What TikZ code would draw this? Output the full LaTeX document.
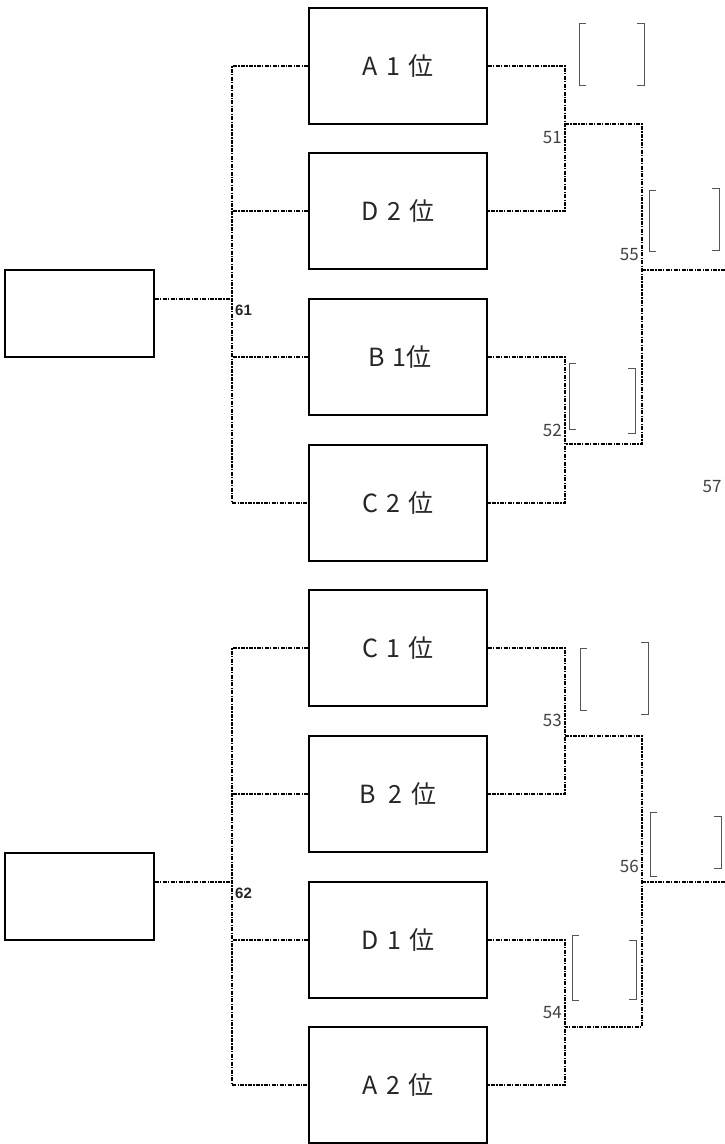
\documentclass[tikz,border=0pt]{standalone}
\usepackage{fontspec}
\setmainfont{Liberation Sans}
\newfontfamily\jpfont{Noto Sans CJK JP}
\definecolor{numgray}{HTML}{404040}
\definecolor{brgray}{HTML}{555555}
\begin{document}
\begin{tikzpicture}[x=1pt,y=-1pt,
  team/.style={draw,line width=1.6pt,minimum width=178pt,minimum height=116pt,inner sep=0pt,font=\jpfont\fontsize{25}{28}\selectfont,text=black!85},
  seed/.style={draw,line width=1.6pt,minimum width=149pt,minimum height=87pt,inner sep=0pt},
  conn/.style={line width=1.4pt,dash pattern=on 4pt off 1.3pt on 1.3pt off 1.3pt},
  num/.style={font=\jpfont\fontsize{17}{19}\selectfont,text=numgray,inner sep=0pt},
  bnum/.style={font=\fontsize{15}{17}\selectfont\bfseries,inner sep=0pt,text=black!85},
  brk/.style={draw=brgray,line width=0.9pt}]
\useasboundingbox (0,0) rectangle (725,1144);
% team boxes
\node[team] (A1) at (398,66) {A\,\,1\,\,位};
\node[team] (D2) at (398,211) {D\,\,2\,\,位};
\node[team] (B1) at (398,357) {\hspace{4pt}B\,\,1位};
\node[team] (C2) at (398,503) {C\,\,2\,\,位};
\node[team] (C1) at (398,648) {C\,\,1\,\,位};
\node[team] (B2) at (398,794) {B\,\,\,2\,\,位};
\node[team] (D1) at (398,940) {D\,\,1\,\,位};
\node[team] (A2) at (398,1085) {A\,\,2\,\,位};
% seed boxes
\node[seed] (S1) at (79.5,313.5) {};
\node[seed] (S2) at (79.5,896.5) {};
% coordinates
\coordinate (L1) at (232,299);
\coordinate (L2) at (232,882);
\coordinate (J51) at (565,124);
\coordinate (J52) at (565,444);
\coordinate (J53) at (565,736);
\coordinate (J54) at (565,1027);
\coordinate (J55) at (642,270);
\coordinate (J56) at (642,882);
\coordinate (E55) at (725,270);
\coordinate (E56) at (725,882);
% left connectors
\draw[conn] (S1.east |- L1) -- (L1);
\draw[conn] (A1.west) -- (A1.west -| L1) -- (C2.west -| L1) -- (C2.west);
\draw[conn] (D2.west) -- (D2.west -| L1);
\draw[conn] (B1.west) -- (B1.west -| L1);
\draw[conn] (S2.east |- L2) -- (L2);
\draw[conn] (C1.west) -- (C1.west -| L2) -- (A2.west -| L2) -- (A2.west);
\draw[conn] (B2.west) -- (B2.west -| L2);
\draw[conn] (D1.west) -- (D1.west -| L2);
% right connectors
\draw[conn] (A1.east) -- (A1.east -| J51) -- (D2.east -| J51) -- (D2.east);
\draw[conn] (B1.east) -- (B1.east -| J52) -- (C2.east -| J52) -- (C2.east);
\draw[conn] (C1.east) -- (C1.east -| J53) -- (B2.east -| J53) -- (B2.east);
\draw[conn] (D1.east) -- (D1.east -| J54) -- (A2.east -| J54) -- (A2.east);
\draw[conn] (J51) -- (J51 -| J55) -- (J52 -| J55) -- (J52);
\draw[conn] (J53) -- (J53 -| J56) -- (J54 -| J56) -- (J54);
\draw[conn] (J55) -- (E55);
\draw[conn] (J56) -- (E56);
% labels
\node[bnum,anchor=west] (n61) at (235,310) {61};
\node[bnum,anchor=west] (n62) at (235,893) {62};
\node[num,anchor=east] (n51) at (562,138) {51};
\node[num,anchor=east] (n52) at (562,430) {52};
\node[num,anchor=east] (n53) at (562,720) {53};
\node[num,anchor=east] (n54) at (562,1013) {54};
\node[num,anchor=east] (n55) at (639,255) {55};
\node[num,anchor=east] (n56) at (639,866) {56};
\node[num] (n57) at (712,487) {57};
% brackets
\draw[brk] (586,23) -- (579,23) -- (579,85) -- (586,85);
\draw[brk] (637,23) -- (644,23) -- (644,85) -- (637,85);
\draw[brk] (656,190) -- (649,190) -- (649,251) -- (656,251);
\draw[brk] (712,188) -- (719,188) -- (719,250) -- (712,250);
\draw[brk] (576,363) -- (569,363) -- (569,429) -- (576,429);
\draw[brk] (628,368) -- (635,368) -- (635,433) -- (628,433);
\draw[brk] (587,648) -- (580,648) -- (580,710) -- (587,710);
\draw[brk] (641,642) -- (648,642) -- (648,714) -- (641,714);
\draw[brk] (657,812) -- (650,812) -- (650,876) -- (657,876);
\draw[brk] (714,816) -- (721,816) -- (721,868) -- (714,868);
\draw[brk] (579,935) -- (572,935) -- (572,1000) -- (579,1000);
\draw[brk] (629,940) -- (636,940) -- (636,999) -- (629,999);
\end{tikzpicture}
\end{document}
